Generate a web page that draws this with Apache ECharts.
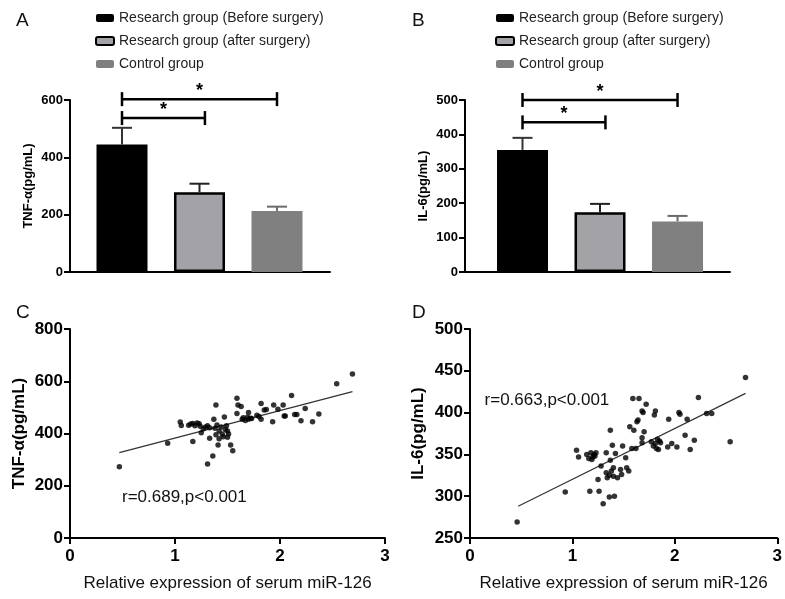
<!DOCTYPE html>
<html>
<head>
<meta charset="utf-8">
<script src="https://cdn.jsdelivr.net/npm/echarts@6/dist/echarts.min.js"></script>
<style>
html,body{margin:0;padding:0;background:#fff;}
#chart{width:785px;height:599px;}
</style>
</head>
<body>
<div id="chart"></div>
<script>
// ---------- DATA ----------
const groupNames = ['Research group (Before surgery)', 'Research group (after surgery)', 'Control group'];
const tnfMean = [445, 278, 213];
const tnfSD = [58, 30, 15];
const il6Mean = [355, 174, 147];
const il6SD = [35, 24, 16];
// significance brackets: [from group, to group, height]
const sigA = [[0, 1.07, 537], [0, 2, 603]];
const sigB = [[0, 1.07, 435], [0, 2, 500]];

// scatter C: [miR-126, TNF-α]
const scatterC = [
  [0.47,273],[0.93,363],[1.05,444],[1.06,431],
  [1.13,432],[1.15,436],[1.17,438],[1.19,430],[1.21,440],[1.23,437],[1.24,428],[1.17,369],
  [1.25,403],[1.27,418],[1.29,425],[1.31,430],[1.33,422],[1.33,382],[1.39,509],[1.37,455],[1.31,283],[1.36,314],[1.41,356],
  [1.38,420],[1.40,433],[1.42,410],[1.44,425],[1.45,398],[1.46,388],[1.48,415],[1.47,463],[1.42,380],[1.39,395],
  [1.49,430],[1.50,410],[1.51,398],[1.50,386],[1.53,356],[1.55,334],
  [1.59,535],[1.60,509],[1.63,503],[1.59,477],[1.64,455],[1.65,460],[1.67,450],[1.69,462],[1.70,480],[1.70,455],[1.72,458],[1.73,457],
  [1.78,470],[1.80,465],[1.82,455],[1.82,515],[1.85,490],[1.87,492],
  [1.93,445],[1.94,509],[1.98,493],[2.03,509],[2.04,467],[2.05,467],[2.11,545],[2.14,473],[2.16,473],[2.20,449],[2.24,496],[2.31,445],[2.37,475],[2.54,590],[2.69,628]
];
// scatter D: [miR-126, IL-6]
const scatterD = [
  [0.46,269],[0.93,305],[1.04,355],[1.06,347],
  [1.14,350],[1.16,345],[1.18,352],[1.19,344],[1.21,350],[1.22,348],[1.23,352],[1.20,347],
  [1.17,306],[1.25,320],[1.26,306],[1.28,336],[1.30,291],[1.33,352],[1.37,379],
  [1.33,328],[1.34,322],[1.36,325],[1.38,330],[1.40,324],[1.36,299],[1.41,300],[1.37,343],[1.39,361],
  [1.42,351],[1.40,334],[1.49,360],[1.52,346],[1.53,334],[1.55,330],[1.47,332],[1.44,322],[1.48,326],
  [1.56,383],[1.59,417],[1.65,417],[1.60,379],[1.58,357],[1.62,357],[1.63,389],[1.64,391],[1.68,402],[1.69,400],[1.72,410],[1.68,370],[1.70,377],[1.68,364],
  [1.77,365],[1.79,360],[1.81,363],[1.82,357],[1.84,356],[1.85,366],[1.83,368],[1.86,364],[1.80,397],[1.81,402],
  [1.93,359],[1.94,392],[1.97,363],[2.02,359],[2.04,400],[2.05,398],[2.10,373],[2.12,392],[2.15,356],[2.19,367],[2.23,418],[2.31,399],[2.36,399],[2.54,365],[2.69,442]
];
const fitC = [[0.47,327],[2.69,560]];
const fitD = [[0.47,288],[2.69,423]];
const annoC = [[0.495,157,'r=0.689,p<0.001']];
const annoD = [[0.142,415,'r=0.663,p<0.001']];
const tickC = [0, 200, 400, 600, 800];
const tickD = [250, 300, 350, 400, 450, 500];

// ---------- STYLE ----------
const FONT = '"Liberation Sans", Arial, Helvetica, sans-serif';
const barColors = ['#000000', '#a3a3a7', '#808080'];
const barBorder = [null, '#000000', null];
const errColors = ['#333333', '#222222', '#6a6a6a'];

function errRender(colors){
  return function(params, api){
    const i = api.value(0);
    const m = api.value(1), s = api.value(2);
    const p1 = api.coord([i, m]);
    const p2 = api.coord([i, m + s]);
    const c = colors[params.dataIndex];
    return {type:'group', children:[
      {type:'line', shape:{x1:p1[0], y1:p1[1], x2:p2[0], y2:p2[1]}, style:{stroke:c, lineWidth:2}},
      {type:'line', shape:{x1:p2[0]-10, y1:p2[1], x2:p2[0]+10, y2:p2[1]}, style:{stroke:c, lineWidth:2}}
    ]};
  };
}
function bracketRender(params, api){
  const a = api.coord([api.value(0), api.value(2)]);
  const b = api.coord([api.value(1), api.value(2)]);
  const st = {stroke:'#000', lineWidth:2.5};
  return {type:'group', children:[
    {type:'line', shape:{x1:a[0], y1:a[1], x2:b[0], y2:b[1]}, style:st},
    {type:'line', shape:{x1:a[0], y1:a[1]-7, x2:a[0], y2:a[1]+7}, style:st},
    {type:'line', shape:{x1:b[0], y1:b[1]-7, x2:b[0], y2:b[1]+7}, style:st},
    {type:'text', style:{text:'*', x:(a[0]+b[0])/2, y:a[1]-8, align:'center', verticalAlign:'middle',
      font:'bold 18px ' + FONT, fill:'#000'}}
  ]};
}
function textRender(params, api){
  const p = api.coord([api.value(0), api.value(1)]);
  return {type:'text', style:{text: params.dataIndex === 0 ? api.value(2) : '', x:p[0], y:p[1],
    align:'left', verticalAlign:'middle', font:'17px ' + FONT, fill:'#111'}};
}

const axisLineStyle = {show:true, onZero:false, lineStyle:{color:'#000', width:2}};
const tickStyle = {show:true, length:6, lineStyle:{color:'#000', width:2}};

function barAxisY(grid, max, interval, name){
  return {gridIndex:grid, type:'value', min:0, max:max, interval:interval,
    axisLine:axisLineStyle, axisTick:tickStyle, splitLine:{show:false},
    axisLabel:{color:'#000', fontWeight:'bold', fontSize:13, fontFamily:FONT, margin:7},
    name:name, nameLocation:'middle', nameGap:35, nameRotate:90,
    nameTextStyle:{color:'#000', fontWeight:'bold', fontSize:13, fontFamily:FONT}};
}
function barAxisX(grid, min, max){
  return {gridIndex:grid, type:'value', min:min, max:max,
    axisLine:axisLineStyle, axisTick:{show:false}, axisLabel:{show:false}, splitLine:{show:false}};
}
function scAxisX(grid){
  return {gridIndex:grid, type:'value', min:0, max:3, interval:1,
    axisLine:axisLineStyle, axisTick:tickStyle, splitLine:{show:false},
    axisLabel:{color:'#000', fontWeight:'bold', fontSize:17, fontFamily:FONT, margin:10},
    name:'Relative expression of serum miR-126', nameLocation:'middle', nameGap:37,
    nameTextStyle:{color:'#111', fontSize:17, fontFamily:FONT}};
}
function scAxisY(grid, ticks, name, gap){
  return {gridIndex:grid, type:'value', min:ticks[0], max:ticks[ticks.length-1], interval:ticks[1]-ticks[0],
    axisLine:axisLineStyle, axisTick:tickStyle, splitLine:{show:false},
    axisLabel:{color:'#000', fontWeight:'bold', fontSize:17, fontFamily:FONT, margin:7},
    name:name, nameLocation:'middle', nameGap:gap, nameRotate:90,
    nameTextStyle:{color:'#000', fontWeight:'bold', fontSize:17, fontFamily:FONT}};
}

const series = [];
[[tnfMean, tnfSD, sigA, 0], [il6Mean, il6SD, sigB, 1]].forEach(([mean, sd, sig, g]) => {
  groupNames.forEach((nm, i) => {
    series.push({type:'bar', name:nm, xAxisIndex:g, yAxisIndex:g, barWidth:51, barGap:'-100%',
      data:[[i, mean[i]]],
      itemStyle: barBorder[i] ? {color:barColors[i], borderColor:barBorder[i], borderWidth:2.5}
                              : {color:barColors[i]},
      emphasis:{disabled:true}, z:2});
  });
  series.push({type:'custom', xAxisIndex:g, yAxisIndex:g, renderItem:errRender(errColors),
    data: mean.map((m, i) => [i, m, sd[i]]), z:3, silent:true});
  series.push({type:'custom', xAxisIndex:g, yAxisIndex:g, renderItem:bracketRender,
    data: sig, z:4, silent:true, clip:false});
});
[[scatterC, fitC, annoC, 2], [scatterD, fitD, annoD, 3]].forEach(([pts, fit, anno, g]) => {
  series.push({type:'scatter', xAxisIndex:g, yAxisIndex:g, data:pts, symbolSize:5.5,
    itemStyle:{color:'#000'}, z:3, silent:true});
  series.push({type:'line', xAxisIndex:g, yAxisIndex:g, data:fit, showSymbol:false, symbol:'none',
    lineStyle:{color:'#333', width:1.2}, z:2, silent:true});
  series.push({type:'custom', xAxisIndex:g, yAxisIndex:g, renderItem:textRender, data:anno, z:5, silent:true});
});

const legendBase = {orient:'vertical', itemWidth:18, itemHeight:8, itemGap:9, data:groupNames,
  textStyle:{fontSize:14, color:'#222', fontFamily:FONT}, selectedMode:false};

const option = {
  backgroundColor:'#fff',
  animation:false,
  title:[
    {text:'A', left:11, top:6},
    {text:'B', left:407, top:6},
    {text:'C', left:11, top:298},
    {text:'D', left:407, top:298}
  ].map(t => Object.assign(t, {textStyle:{fontSize:19, fontWeight:'normal', color:'#111', fontFamily:FONT}})),
  legend:[
    Object.assign({left:90, top:6}, legendBase),
    Object.assign({left:490, top:6}, legendBase)
  ],
  grid:[
    {left:70, top:100, width:260, height:172},
    {left:465, top:100, width:265, height:172},
    {left:70, top:329, width:315, height:209},
    {left:470, top:329, width:316, height:209}
  ],
  xAxis:[barAxisX(0, -0.671, 2.684), barAxisX(1, -0.742, 2.677), scAxisX(2), scAxisX(3)],
  yAxis:[barAxisY(0, 600, 200, 'TNF-α(pg/mL)'), barAxisY(1, 500, 100, 'IL-6(pg/mL)'),
         scAxisY(2, tickC, 'TNF-α(pg/mL)', 42), scAxisY(3, tickD, 'IL-6(pg/mL)', 43)],
  series:series
};
const chart = echarts.init(document.getElementById('chart'), null, {renderer:'canvas'});
chart.setOption(option);
</script>
</body>
</html>
